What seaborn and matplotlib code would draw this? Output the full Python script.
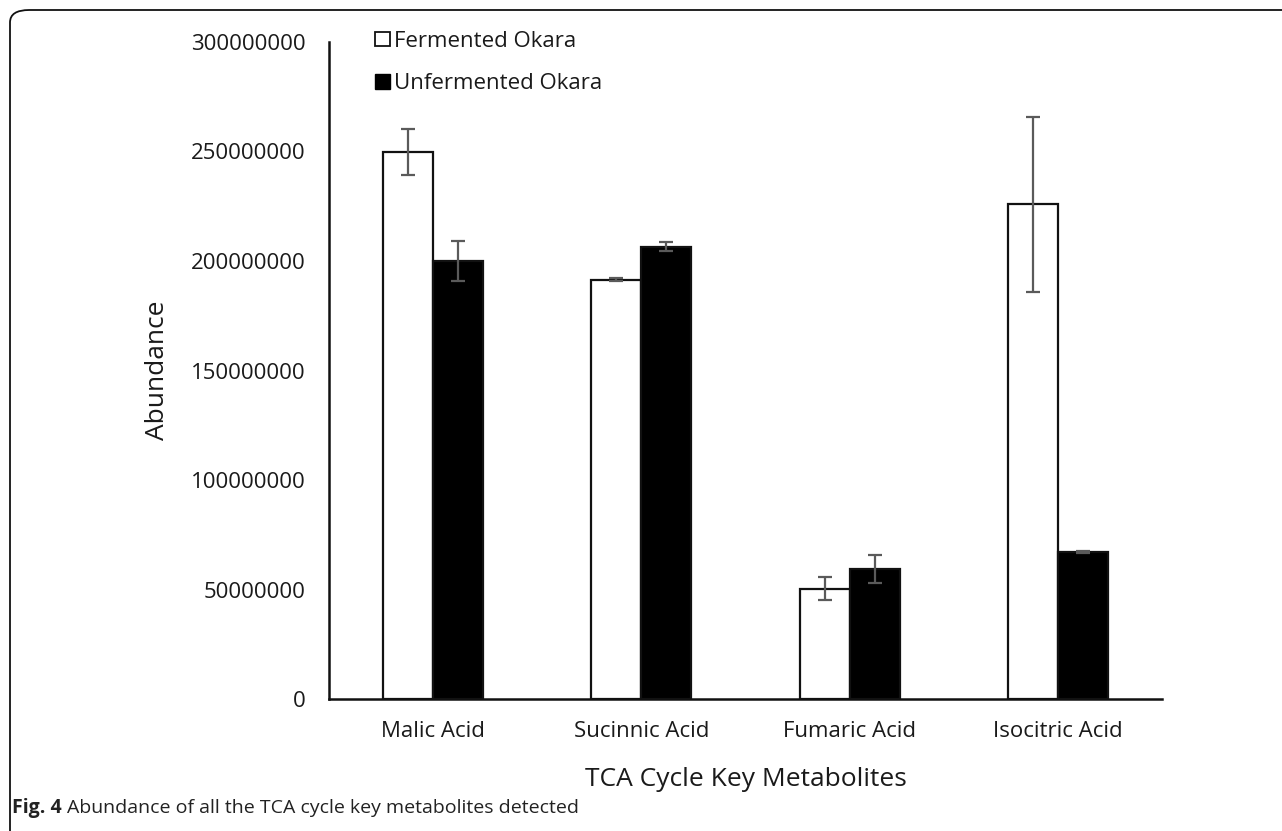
import matplotlib

matplotlib.use("Agg")
import matplotlib.pyplot as plt
import pandas as pd
import seaborn as sns
from matplotlib.patches import FancyBboxPatch, Patch
from matplotlib.ticker import FuncFormatter

metabolites = ["Malic Acid", "Sucinnic Acid", "Fumaric Acid", "Isocitric Acid"]
groups = ["Fermented Okara", "Unfermented Okara"]
fermented = [249.9e6, 191.5e6, 50.4e6, 225.9e6]
fermented_err = [10.5e6, 0.6e6, 5.1e6, 40.0e6]
unfermented = [200.0e6, 206.6e6, 59.3e6, 67.2e6]
unfermented_err = [9.2e6, 2.0e6, 6.3e6, 0.4e6]
yticks = [0, 50e6, 100e6, 150e6, 200e6, 250e6, 300e6]

df = pd.DataFrame({
    "metabolite": metabolites * 2,
    "group": [groups[0]] * 4 + [groups[1]] * 4,
    "abundance": fermented + unfermented,
})
errs = {groups[0]: fermented_err, groups[1]: unfermented_err}

sns.set_theme(style="white")
plt.rcParams["font.family"] = ["Open Sans", "DejaVu Sans"]

fig = plt.figure(figsize=(12.82, 8.31), dpi=100)
ax = fig.add_axes([0.2566, 0.1588, 0.6498, 0.7907])

sns.barplot(
    data=df, x="metabolite", y="abundance", hue="group", order=metabolites,
    hue_order=groups, palette={groups[0]: "white", groups[1]: "black"},
    width=0.48, edgecolor="#111111", linewidth=1.6, errorbar=None,
    legend=False, ax=ax,
)

# error bars on top of each bar
for cont, g in zip(ax.containers, groups):
    xs = [b.get_x() + b.get_width() / 2 for b in cont]
    hs = [b.get_height() for b in cont]
    ax.errorbar(xs, hs, yerr=errs[g], fmt="none", ecolor="#5a5a5a",
                elinewidth=1.6, capsize=5, capthick=1.6, zorder=5)

ax.set_ylim(0, 300e6)
ax.set_xlim(-0.5, 3.5)
ax.set_yticks(yticks)
ax.yaxis.set_major_formatter(FuncFormatter(lambda v, p: f"{v:.0f}"))
ax.tick_params(axis="both", length=0, labelsize=16, colors="#1a1a1a")
ax.tick_params(axis="y", pad=17)
ax.tick_params(axis="x", pad=16)
for s in ["top", "right"]:
    ax.spines[s].set_visible(False)
for s in ["left", "bottom"]:
    ax.spines[s].set_color("#111111")
    ax.spines[s].set_linewidth(1.8)

ax.set_xlabel("TCA Cycle Key Metabolites", fontsize=19, color="#1a1a1a", labelpad=18)
ax.set_ylabel("Abundance", fontsize=19, color="#1a1a1a", labelpad=15)

handles = [Patch(facecolor="white", edgecolor="#111111", linewidth=1.3),
           Patch(facecolor="black", edgecolor="black")]
fig.legend(handles, groups, loc="upper left", bbox_to_anchor=(0.277, 0.987),
           frameon=False, fontsize=16, handlelength=0.65, handleheight=0.65,
           handletextpad=0.2, labelspacing=0.95, labelcolor="#1a1a1a")

frame = FancyBboxPatch((10 / 1282, -0.2), 1.5, 1.2 - 10 / 831,
                       boxstyle="round,pad=0,rounding_size=0.015",
                       transform=fig.transFigure, facecolor="none",
                       edgecolor="#111111", linewidth=1.3, clip_on=False)
fig.patches.append(frame)

fig.text(12 / 1282, 1 - 808 / 831, "Fig. 4", fontsize=14, fontweight="bold",
         va="center", ha="left", color="#222222")
fig.text(67 / 1282, 1 - 808 / 831,
         "Abundance of all the TCA cycle key metabolites detected",
         fontsize=14, va="center", ha="left", color="#222222")

fig.savefig("out.png", dpi=100)
